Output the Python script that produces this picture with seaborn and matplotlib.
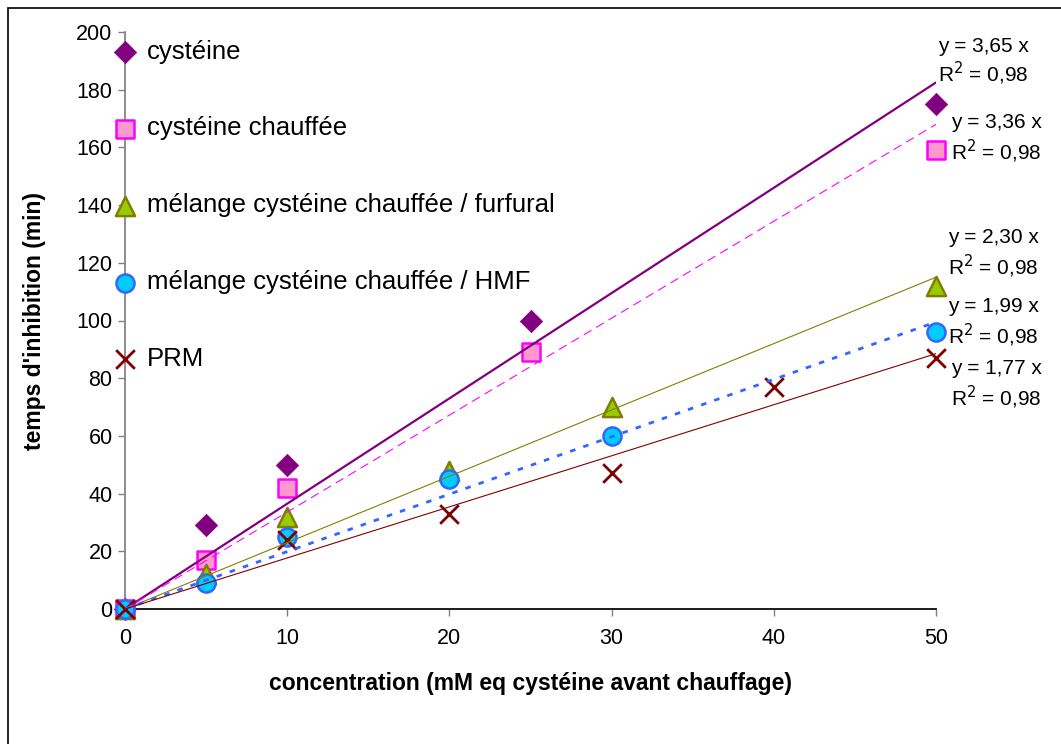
import matplotlib
matplotlib.use("Agg")
import pandas as pd
import matplotlib.pyplot as plt
import seaborn as sns
from matplotlib.patches import Rectangle

sns.set_theme(style="white")
plt.rcParams['font.family'] = ['Liberation Sans', 'DejaVu Sans']
plt.rcParams['text.color'] = 'black'
plt.rcParams['axes.labelcolor'] = 'black'

# === données ===
series = ["cystéine", "cystéine chauffée", "mélange cystéine chauffée / furfural",
          "mélange cystéine chauffée / HMF", "PRM"]
conc_cys = [0, 5, 10, 25, 50]
temps_cys = [0, 29, 50, 100, 175]
conc_cys_ch = [0, 5, 10, 25, 50]
temps_cys_ch = [0, 17, 42, 89, 159]
conc_furf = [0, 5, 10, 20, 30, 50]
temps_furf = [0, 12, 32, 48, 70, 112]
conc_hmf = [0, 5, 10, 20, 30, 50]
temps_hmf = [0, 9, 25, 45, 60, 96]
conc_prm = [0, 10, 20, 30, 40, 50]
temps_prm = [0, 24, 33, 47, 77, 87]
slopes = [3.65, 3.36, 2.30, 1.99, 1.77]
r2_vals = [0.98, 0.98, 0.98, 0.98, 0.98]
x_ticks = [0, 10, 20, 30, 40, 50]
y_ticks = [0, 20, 40, 60, 80, 100, 120, 140, 160, 180, 200]

concs = [conc_cys, conc_cys_ch, conc_furf, conc_hmf, conc_prm]
temps = [temps_cys, temps_cys_ch, temps_furf, temps_hmf, temps_prm]
df = pd.concat([pd.DataFrame({"concentration": c, "temps": t, "serie": s})
                for c, t, s in zip(concs, temps, series)], ignore_index=True)

# === styles ===
markers = ["D", "s", "^", "o", "x"]
face_colors = ["#800080", "#FF99CC", "#99CC00", "#00CCFF", "#800000"]
edge_colors = ["#800080", "#FF00FF", "#808000", "#3366FF", "#800000"]
marker_sizes = [130, 160, 190, 170, 180]
line_colors = ["#800080", "#FF00FF", "#808000", "#3366FF", "#800000"]
line_styles = ["-", (0, (8, 5)), "-", (0, (2, 3)), "-"]
line_widths = [1.6, 0.8, 0.8, 2.0, 0.8]

fig = plt.figure(figsize=(10.61, 7.44), dpi=100)
ax = fig.add_axes([125 / 1061, 1 - 609 / 744, 811 / 1061, 577 / 744])

for i, s in enumerate(series):
    d = df[df["serie"] == s]
    if markers[i] == "x":
        sns.scatterplot(data=d, x="concentration", y="temps", ax=ax, marker="x",
                        color=face_colors[i], s=marker_sizes[i], linewidth=2,
                        label=s, clip_on=False, zorder=3)
    else:
        sns.scatterplot(data=d, x="concentration", y="temps", ax=ax, marker=markers[i],
                        color=face_colors[i], edgecolor=edge_colors[i], s=marker_sizes[i],
                        linewidth=1.8 if i > 0 else 0.5, label=s, clip_on=False, zorder=3)

# courbes de tendance (y = a x)
for i, s in enumerate(series):
    fit = pd.DataFrame({"concentration": [0, 50]})
    fit["temps"] = slopes[i] * fit["concentration"]
    sns.lineplot(data=fit, x="concentration", y="temps", ax=ax, color=line_colors[i],
                 linestyle=line_styles[i], linewidth=line_widths[i], zorder=4, legend=False)

ax.set_xlim(0, 50)
ax.set_ylim(0, 200)
ax.set_xticks(x_ticks)
ax.set_yticks(y_ticks)
ax.spines["top"].set_visible(False)
ax.spines["right"].set_visible(False)
ax.spines["left"].set_color("#808080")
ax.spines["bottom"].set_color("black")
ax.tick_params(axis="y", left=True, length=5, width=1, color="#808080", labelsize=15.5,
               pad=4, labelcolor="black", direction="out")
ax.tick_params(axis="x", bottom=True, length=5, width=1, color="#808080", labelsize=15.5,
               pad=9, labelcolor="black", direction="out")
ax.set_xlabel("concentration (mM eq cystéine avant chauffage)", fontsize=16.5,
              fontweight="bold", labelpad=16)
ax.set_ylabel("temps d'inhibition (min)", fontsize=16.5, fontweight="bold", labelpad=22)

leg = ax.legend(loc="upper left", bbox_to_anchor=(-13 / 811, 1 - 7.5 / 577), frameon=False,
                fontsize=18.5, handlelength=1.0, handletextpad=0.36, labelspacing=2.06,
                borderpad=0, borderaxespad=0)

# équations des courbes de tendance
eq_pos = [(983, 47, 73), (996, 122, 151), (993, 238, 266), (993, 306, 335), (996, 368, 397)]
for i, (px, py1, py2) in enumerate(eq_pos):
    eq = f"y = {slopes[i]:.2f} x".replace(".", ",")
    r2 = f"R$^2$ = {r2_vals[i]:.2f}".replace(".", ",")
    fig.text(px / 1061, 1 - py1 / 744, eq, ha="center", va="center", fontsize=15)
    fig.text(px / 1061, 1 - py2 / 744, r2, ha="center", va="center", fontsize=15)

# cadre du graphique
fig.patches.append(Rectangle((8 / 1061, -0.1), 1.2, 1 - 8 / 744 + 0.1,
                             transform=fig.transFigure, fill=False, lw=1.2,
                             edgecolor="black"))

fig.savefig("out.png", dpi=100)
